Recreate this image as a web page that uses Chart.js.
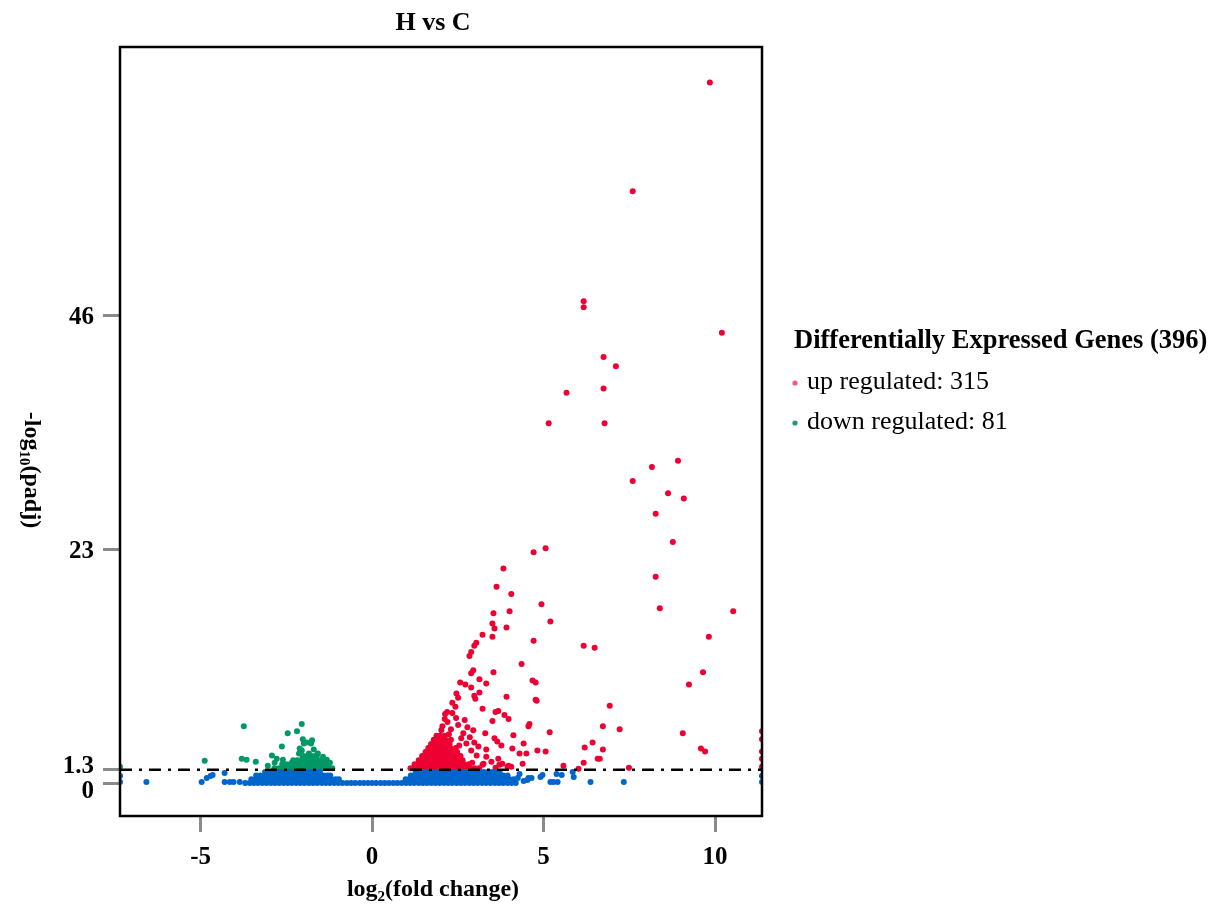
<!DOCTYPE html>
<html>
<head>
<meta charset="utf-8">
<title>H vs C volcano</title>
<script src="https://cdn.jsdelivr.net/npm/chart.js@4.4.0/dist/chart.umd.min.js"></script>
<style>
    html, body { margin: 0; padding: 0; background: #fff; }
    #wrap { width: 1212px; height: 906px; }
</style>
</head>
<body>
<div id="wrap"><canvas id="volcano" width="1212" height="906"></canvas></div>
<script>
// ====== DATA ======

const chartTitle = 'H vs C';
const threshold = 1.3;                 // -log10(0.05)
const xRange = [-7.35, 11.37];
const yRange = [-3.24, 72.4];
const xTicks = [-5, 0, 5, 10];
const yTicks = [0, 1.3, 23, 46];
const yTickLabels = ['0', '1.3', '23', '46'];

const legendTitle = 'Differentially Expressed Genes (396)';
const legendItems = ['up regulated: 315', 'down regulated: 81'];

// Up regulated: titik yang tersebar [log2FC, -log10 padj]
const upPoints = [
    [9.85, 68.9], [7.60, 58.2], [6.17, 47.4], [6.17, 46.8], [10.20, 44.3], [6.75, 41.9], [7.11, 41.0],
    [5.67, 38.4], [6.75, 38.8], [5.15, 35.4], [6.78, 35.4], [8.92, 31.7], [8.16, 31.1], [7.60, 29.7],
    [8.63, 28.5], [9.09, 28.0], [8.27, 26.5], [8.77, 23.7], [5.06, 23.1], [4.71, 22.7], [3.83, 21.1],
    [8.27, 20.3], [3.63, 19.3], [4.06, 18.6], [4.94, 17.6], [8.39, 17.2], [10.53, 16.9], [3.54, 16.7],
    [4.01, 16.9], [5.20, 15.9], [3.51, 15.7], [3.57, 15.2], [3.92, 15.3], [3.22, 14.6], [3.51, 14.4],
    [4.71, 14.0], [3.04, 13.8], [2.98, 13.5], [9.82, 14.4], [6.17, 13.5], [6.49, 13.3], [2.89, 12.9],
    [2.84, 12.5], [4.36, 11.7], [2.95, 11.1], [2.89, 10.8], [3.54, 10.9], [9.65, 10.9], [2.57, 9.9],
    [2.72, 9.7], [3.13, 10.2], [3.33, 9.8], [4.68, 10.1], [4.77, 9.9], [9.24, 9.7], [2.89, 9.4],
    [3.13, 8.9], [2.46, 8.8], [2.51, 8.4], [2.98, 8.6], [3.01, 8.3], [3.92, 8.5], [4.77, 8.2],
    [6.93, 7.6], [2.34, 7.9], [2.43, 7.5], [3.22, 7.3], [3.60, 7.0], [3.68, 7.1], [2.19, 7.0],
    [2.13, 6.8], [3.86, 6.7], [3.98, 6.3], [3.51, 6.1], [4.59, 5.8], [4.56, 5.6], [6.73, 5.6],
    [7.22, 5.3], [5.18, 5.0], [9.06, 4.9], [3.30, 4.9], [4.12, 4.7], [3.57, 4.4], [3.65, 4.1],
    [3.77, 3.7], [4.42, 3.9], [6.43, 4.0], [6.20, 3.5], [4.09, 3.4], [3.33, 3.3], [4.82, 3.2],
    [5.06, 3.1], [6.73, 3.3], [9.59, 3.4], [9.71, 3.1], [4.30, 2.9], [4.50, 2.9], [3.33, 2.6],
    [3.68, 2.4], [3.48, 2.1], [6.58, 2.4], [6.64, 2.4], [6.17, 2.0], [3.80, 1.9], [3.71, 1.8],
    [3.25, 1.9], [4.39, 1.9], [3.98, 1.7], [4.06, 1.6], [2.92, 2.0], [3.60, 1.5], [5.58, 1.7],
    [6.02, 1.4], [7.49, 1.5], [3.22, 1.8], [3.95, 1.6], [2.89, 3.2], [4.80, 8.1],
    [2.34, 6.9], [2.51, 5.7], [2.78, 5.5], [2.66, 4.9], [2.54, 3.7], [2.75, 3.9], [2.60, 4.4],
    [2.85, 4.5], [2.45, 6.4], [2.70, 6.2], [2.95, 5.2], [3.05, 2.7], [3.10, 3.6], [2.98, 4.0],
    [2.05, 5.6], [2.20, 6.0], [2.12, 6.3], [2.30, 5.3], [2.02, 5.2], [2.24, 4.8],
    [11.37, 5.1], [11.37, 4.3], [11.37, 3.1], [11.37, 2.4], [11.37, 1.6]
];

// Up regulated: massa padat dekat garis ambang (per baris -log10 padj)
const upCoreLevels = [1.45, 1.85, 2.25, 2.65, 3.05, 3.45, 3.85, 4.25, 4.65];
const upCoreRows = [
    [1.12, 1.22, 1.32, 1.42, 1.52, 1.62, 1.72, 1.82, 1.92, 2.02, 2.12, 2.22, 2.32, 2.42, 2.52, 2.62, 2.74, 2.86, 3.0, 3.12],
    [1.24, 1.34, 1.44, 1.54, 1.64, 1.74, 1.84, 1.94, 2.04, 2.14, 2.24, 2.34, 2.44, 2.56, 2.68, 2.82],
    [1.36, 1.46, 1.56, 1.66, 1.76, 1.86, 1.96, 2.06, 2.16, 2.26, 2.38, 2.5, 2.64],
    [1.46, 1.56, 1.66, 1.76, 1.86, 1.96, 2.06, 2.16, 2.28, 2.42, 2.58],
    [1.56, 1.66, 1.76, 1.86, 1.96, 2.07, 2.18, 2.32, 2.48],
    [1.64, 1.74, 1.84, 1.94, 2.04, 2.15, 2.28, 2.44],
    [1.72, 1.82, 1.92, 2.02, 2.13, 2.26],
    [1.8, 1.9, 2.0, 2.14, 2.3],
    [1.88, 1.99, 2.12]
];

// Down regulated
const downPoints = [
    [-3.74, 5.6], [-2.05, 5.8], [-2.46, 4.9], [-2.19, 5.1], [-2.02, 4.3], [-1.90, 4.0], [-1.99, 3.9],
    [-1.75, 4.2], [-1.78, 3.9], [-2.63, 3.6], [-2.11, 3.4], [-2.05, 3.2], [-1.70, 3.3], [-1.84, 2.9],
    [-1.58, 2.9], [-1.61, 2.7], [-1.43, 2.6], [-2.92, 2.7], [-2.13, 2.9], [-4.88, 2.2], [-3.80, 2.4],
    [-3.66, 2.3], [-3.39, 2.1], [-2.78, 2.4], [-2.60, 2.3], [-3.04, 1.7], [-2.84, 2.0], [-2.34, 2.0],
    [-2.19, 2.1], [-2.02, 2.5], [-1.32, 2.3], [-1.23, 2.0], [-7.35, 1.6]
];
const downCoreLevels = [1.45, 1.85, 2.25, 2.65];
const downCoreRows = [
    [-2.85, -2.72, -2.6, -2.48, -2.36, -2.25, -2.14, -2.03, -1.92, -1.81, -1.7, -1.59, -1.48, -1.37, -1.26, -1.16],
    [-2.62, -2.5, -2.38, -2.27, -2.16, -2.05, -1.94, -1.83, -1.72, -1.61, -1.5, -1.39, -1.29],
    [-2.3, -2.18, -2.07, -1.96, -1.85, -1.74, -1.63, -1.52, -1.42],
    [-2.0, -1.88, -1.77, -1.66]
];

// Tidak signifikan: pita padat di bawah ambang + titik lepas
const nsLevels = [0, 0.37, 0.74, 1.1];
const nsRows = [
    [-3.70, -3.57, -3.45, -3.33, -3.20, -3.08, -2.95, -2.83, -2.71, -2.58, -2.46, -2.34, -2.21, -2.09, -1.97,
     -1.84, -1.72, -1.60, -1.47, -1.35, -1.23, -1.10, -0.98, -0.86, -0.73, -0.61, -0.49, -0.36, -0.24, -0.12,
     0.00, 0.12, 0.25, 0.37, 0.49, 0.62, 0.74, 0.86, 0.99, 1.11, 1.23, 1.36, 1.48, 1.60, 1.73, 1.85, 1.97,
     2.10, 2.22, 2.34, 2.47, 2.59, 2.71, 2.84, 2.96, 3.08, 3.21, 3.33, 3.45, 3.58, 3.70, 3.82, 3.95, 4.07, 4.19],
    [-3.52, -3.39, -3.27, -3.14, -3.02, -2.90, -2.77, -2.65, -2.52, -2.40, -2.28, -2.15, -2.03, -1.91, -1.78,
     -1.66, -1.54, -1.41, -1.29, -1.17, -1.06, -0.97,
     0.98, 1.08, 1.17, 1.29, 1.42, 1.54, 1.66, 1.79, 1.91, 2.03, 2.16, 2.28, 2.40, 2.53, 2.65, 2.77, 2.90,
     3.02, 3.14, 3.27, 3.39, 3.51, 3.64, 3.76, 3.88, 4.01, 4.13],
    [-3.38, -3.26, -3.13, -3.01, -2.89, -2.76, -2.64, -2.52, -2.39, -2.27, -2.15, -2.02, -1.90, -1.78, -1.65,
     -1.53, -1.41, -1.30, -1.22,
     1.13, 1.24, 1.36, 1.49, 1.61, 1.73, 1.86, 1.98, 2.10, 2.23, 2.35, 2.47, 2.60, 2.72, 2.84, 2.97, 3.09,
     3.21, 3.34, 3.46, 3.58, 3.71, 3.83, 3.95],
    [-3.12, -3.00, -2.87, -2.75, -2.63, -2.50, -2.38, -2.26, -2.13, -2.01, -1.89, -1.76, -1.64, -1.52,
     1.27, 1.40, 1.52, 1.64, 1.77, 1.89, 2.01, 2.14, 2.26, 2.38, 2.51, 2.63, 2.75, 2.88, 3.00, 3.12, 3.25,
     3.37, 3.49, 3.62, 3.72]
];
const nsPoints = [
    [-6.58, 0.1], [-4.97, 0.1], [-4.82, 0.5], [-4.71, 0.7], [-4.65, 0.8], [-4.30, 1.0], [-4.30, 0.1],
    [-4.15, 0.1], [-4.04, 0.1], [-3.86, 0.1], [-7.35, 0.7], [-7.35, 0.1], [4.30, 0.9], [4.25, 0.5],
    [4.42, 0.2], [4.53, 0.3], [4.56, 0.5], [4.65, 0.5], [4.91, 0.6], [4.97, 0.8], [5.20, 0.1],
    [5.29, 0.1], [5.41, 0.1], [5.38, 0.9], [5.53, 0.8], [5.85, 1.1], [5.88, 0.6], [6.37, 0.1],
    [7.34, 0.1], [11.37, 0.7], [11.37, 0.1]
];

// ====== STYLE ======
const SERIF = '"Liberation Serif", "Times New Roman", serif';
const COLOR_UP = '#ee0033';
const COLOR_DOWN = '#009966';
const COLOR_NS = '#0066cc';

// Helper: gabung titik lepas + baris massa padat jadi {x, y}
function toXY(points, levels, rows) {
    const out = points.map(p => ({ x: p[0], y: p[1] }));
    if (levels) {
        rows.forEach((row, i) => row.forEach(x => out.push({ x: x, y: levels[i] })));
    }
    return out;
}

// Helper: teks dengan subscript (log2, log10)
function drawRich(ctx, parts, size) {
    const big = `bold ${size}px ${SERIF}`;
    const small = `bold ${Math.round(size * 0.62)}px ${SERIF}`;
    let total = 0;
    parts.forEach(p => {
        ctx.font = p.sub ? small : big;
        p.w = ctx.measureText(p.t).width;
        total += p.w;
    });
    let cx = -total / 2;
    ctx.textAlign = 'left';
    ctx.textBaseline = 'alphabetic';
    parts.forEach(p => {
        ctx.font = p.sub ? small : big;
        ctx.fillText(p.t, cx, p.sub ? size * 0.22 : 0);
        cx += p.w;
    });
}

// Plugin: bingkai, judul, label sumbu, legenda
const decorPlugin = {
    id: 'decor',
    afterDraw(chart) {
        const { ctx, chartArea: a, scales } = chart;
        ctx.save();

        // bingkai plot
        ctx.strokeStyle = '#000';
        ctx.lineWidth = 2.5;
        ctx.strokeRect(a.left, a.top, a.right - a.left, a.bottom - a.top);

        ctx.fillStyle = '#000';

        // label tick Y (0 dan 1.3 digeser supaya tidak tumpang tindih)
        ctx.font = `bold 25px ${SERIF}`;
        ctx.textAlign = 'right';
        ctx.textBaseline = 'middle';
        yTicks.forEach((v, i) => {
            let nudge = 2;
            if (v === 0) nudge = 8;
            if (v === threshold) nudge = -3;
            ctx.fillText(yTickLabels[i], 94, scales.y.getPixelForValue(v) + nudge);
        });

        // judul
        ctx.font = `bold 26px ${SERIF}`;
        ctx.textAlign = 'center';
        ctx.textBaseline = 'middle';
        ctx.fillText(chartTitle, 433, 23);

        // judul sumbu X
        ctx.save();
        ctx.translate(433, 896);
        drawRich(ctx, [{ t: 'log' }, { t: '2', sub: true }, { t: '(fold change)' }], 24);
        ctx.restore();

        // judul sumbu Y (diputar searah jarum jam)
        ctx.save();
        ctx.translate(25, 470);
        ctx.rotate(Math.PI / 2);
        drawRich(ctx, [{ t: '-log' }, { t: '10', sub: true }, { t: '(padj)' }], 24);
        ctx.restore();

        // legenda
        ctx.textAlign = 'left';
        ctx.textBaseline = 'middle';
        ctx.font = `bold 26.5px ${SERIF}`;
        ctx.fillText(legendTitle, 794, 341);
        ctx.font = `26px ${SERIF}`;
        const dotColors = ['#f25c7c', '#1f9c72'];
        legendItems.forEach((txt, i) => {
            const y = 382 + i * 40;
            ctx.fillStyle = dotColors[i];
            ctx.beginPath();
            ctx.arc(795, y + 1, 2.6, 0, Math.PI * 2);
            ctx.fill();
            ctx.fillStyle = '#000';
            ctx.fillText(txt, 807, y);
        });

        ctx.restore();
    }
};

// ====== CHART ======
function pointSet(label, data, color, order) {
    return {
        type: 'scatter',
        label: label,
        data: data,
        order: order,
        clip: 0,
        pointRadius: 3,
        pointHoverRadius: 3,
        pointBorderWidth: 0,
        backgroundColor: color,
        borderColor: color
    };
}

const ctx = document.getElementById('volcano').getContext('2d');
new Chart(ctx, {
    type: 'scatter',
    data: {
        datasets: [
            {
                type: 'line',
                label: 'padj 0.05',
                data: [{ x: xRange[0], y: threshold }, { x: xRange[1], y: threshold }],
                order: 0,
                borderColor: '#000',
                borderWidth: 2.5,
                borderDash: [12, 7, 3, 7],
                pointRadius: 0,
                fill: false
            },
            pointSet('not significant', toXY(nsPoints, nsLevels, nsRows), COLOR_NS, 1),
            pointSet('up regulated', toXY(upPoints, upCoreLevels, upCoreRows), COLOR_UP, 2),
            pointSet('down regulated', toXY(downPoints, downCoreLevels, downCoreRows), COLOR_DOWN, 3)
        ]
    },
    options: {
        responsive: false,
        animation: false,
        events: [],
        layout: { padding: { top: 47, right: 450, left: 0, bottom: 0 } },
        plugins: {
            legend: { display: false },
            title: { display: false },
            tooltip: { enabled: false }
        },
        scales: {
            x: {
                type: 'linear',
                min: xRange[0],
                max: xRange[1],
                afterBuildTicks: s => { s.ticks = xTicks.map(v => ({ value: v })); },
                afterFit: s => { s.height = 90; },
                border: { display: false },
                grid: { drawOnChartArea: false, drawTicks: true, tickLength: 16, tickWidth: 3, tickColor: '#8a8a8a' },
                ticks: {
                    autoSkip: false,
                    maxRotation: 0,
                    padding: 11,
                    color: '#000',
                    font: { family: SERIF, size: 25, weight: 'bold' },
                    callback: v => String(v)
                }
            },
            y: {
                type: 'linear',
                min: yRange[0],
                max: yRange[1],
                afterBuildTicks: s => { s.ticks = yTicks.map(v => ({ value: v })); },
                afterFit: s => { s.width = 120; },
                border: { display: false },
                grid: { drawOnChartArea: false, drawTicks: true, tickLength: 17, tickWidth: 3, tickColor: '#8a8a8a' },
                ticks: { display: false }
            }
        }
    },
    plugins: [decorPlugin]
});
</script>
</body>
</html>
